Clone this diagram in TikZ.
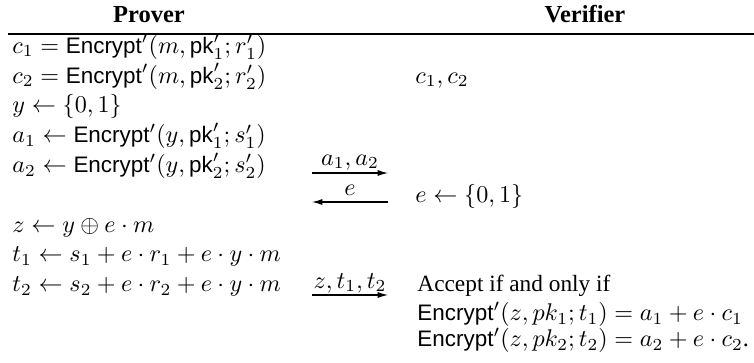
\RequirePackage{fix-cm}
\documentclass[tikz,border=0pt]{standalone}
\usepackage[no-math]{fontspec}
\setmainfont{Liberation Serif}
\setsansfont[Scale=0.93]{Liberation Sans}
\usetikzlibrary{arrows.meta}
\newcommand{\Enc}{\textsf{Encrypt}'}
\newcommand{\pkk}{\textsf{pk}}
\begin{document}
\begin{tikzpicture}[x=0.429pt,y=-0.429pt,
  lft/.style={anchor=mid west, inner sep=0pt, font=\fontsize{10.35}{12.4}\selectfont},
  txt/.style={anchor=mid west, inner sep=0pt},
  hdr/.style={anchor=mid, inner sep=0pt, font=\fontsize{10.5}{12.6}\selectfont\bfseries},
  lbl/.style={anchor=mid, inner sep=0pt, font=\fontsize{10.35}{12.4}\selectfont},
  rule/.style={line width=0.6pt},
  msg/.style={-{Latex[length=4.5pt,width=2.6pt]}, line width=0.45pt}]
\useasboundingbox (0,0) rectangle (754,362);
% headers
\node[hdr] (hp) at (149,17) {Prover};
\node[hdr] (hv) at (585,17) {Verifier};
\coordinate (hl) at (8,34);
\coordinate (hr) at (754,34);
\draw[rule] (hl) -- (hr);
% prover column
\node[lft] (p1) at (12,48)    {$c_1 = \Enc(m,\pkk'_1;r'_1)$};
\node[lft] (p2) at (12,77.8)  {$c_2 = \Enc(m,\pkk'_2;r'_2)$};
\node[lft] (p3) at (12,107.6) {$y \leftarrow \{0,1\}$};
\node[lft] (p4) at (12,137.4) {$a_1 \leftarrow \Enc(y,\pkk'_1;s'_1)$};
\node[lft] (p5) at (12,167.2) {$a_2 \leftarrow \Enc(y,\pkk'_2;s'_2)$};
\node[lft] (p6) at (12,226.8) {$z \leftarrow y \oplus e\cdot m$};
\node[lft] (p7) at (12,256.6) {$t_1 \leftarrow s_1 + e\cdot r_1 + e\cdot y\cdot m$};
\node[lft] (p8) at (12,286.4) {$t_2 \leftarrow s_2 + e\cdot r_2 + e\cdot y\cdot m$};
% verifier column
\node[lft] (v1) at (415,77.8)  {$c_1, c_2$};
\node[lft] (v2) at (415,197)   {$e \leftarrow \{0,1\}$};
\node[txt] (v3) at (417,286.4) {Accept if and only if};
\node[lft] (v4) at (417,315.5) {$\Enc(z,pk_1;t_1) = a_1 + e\cdot c_1$};
\node[lft] (v5) at (417,341.5) {$\Enc(z,pk_2;t_2) = a_2 + e\cdot c_2$.};
% messages
\coordinate (m1s) at (312,173);
\coordinate (m1e) at (388,173);
\draw[msg] (m1s) -- (m1e);
\node[lbl] (l1) at (350,160) {$a_1, a_2$};
\coordinate (m2s) at (388,202);
\coordinate (m2e) at (312,202);
\draw[msg] (m2s) -- (m2e);
\node[lbl] (l2) at (350,190) {$e$};
\coordinate (m3s) at (312,295);
\coordinate (m3e) at (388,295);
\draw[msg] (m3s) -- (m3e);
\node[lbl] (l3) at (350,283) {$z, t_1, t_2$};
\end{tikzpicture}
\end{document}
